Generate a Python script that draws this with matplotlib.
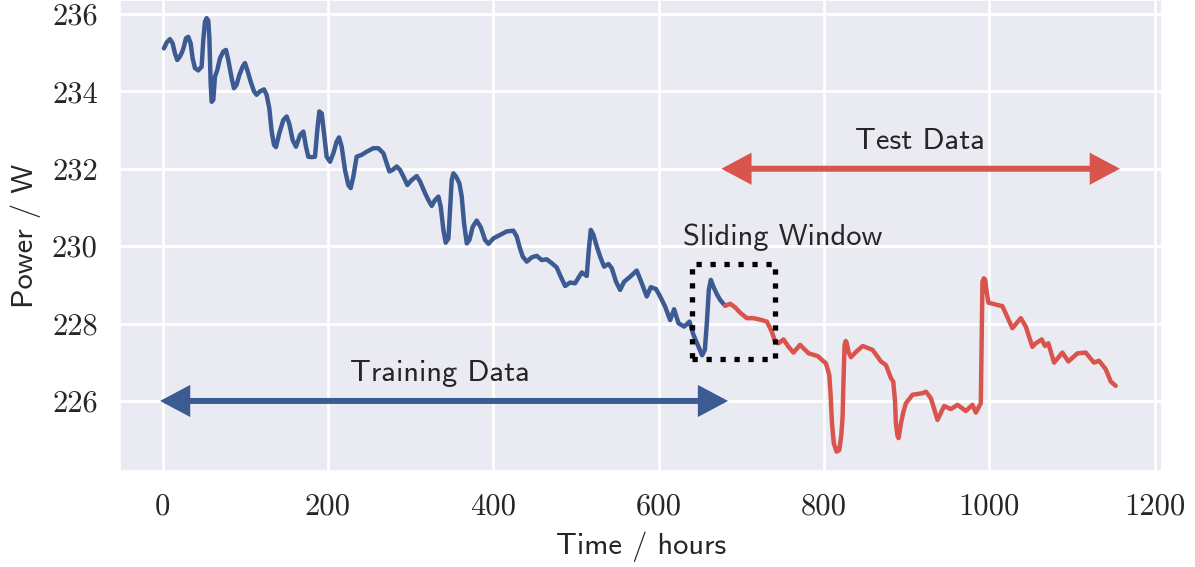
import matplotlib
matplotlib.use("Agg")
import matplotlib.pyplot as plt
import seaborn as sns
from matplotlib.patches import FancyArrowPatch, Rectangle

# training (blue) and test (red) power in W vs hours
train_t = [1.7, 4.9, 8.95, 12.2, 15.0, 17.8, 21.05, 23.9, 25.9, 28.3, 31.1, 34.0,
           36.4, 39.2, 43.2, 47.3, 49.3, 51.3, 53.3, 55.3, 56.55, 58.2, 59.4,
           61.4, 63.4, 66.2, 69.45, 73.5, 76.7, 79.5, 83.6, 86.4, 89.6, 92.85,
           96.9, 99.7, 102.5, 106.6, 110.6, 113.8, 117.9, 122.7, 125.9, 129.15,
           132.0, 134.8, 137.2, 141.25, 146.1, 150.1, 153.35, 157.4, 161.4,
           166.3, 170.3, 173.5, 176.3, 180.4, 184.4, 187.2, 189.65, 192.5,
           195.3, 198.5, 202.6, 206.6, 210.6, 213.45, 216.7, 220.7, 224.7,
           227.6, 230.8, 234.8, 240.9, 246.9, 255.0, 261.05, 267.1, 271.1,
           274.4, 278.4, 283.2, 287.3, 291.3, 296.1, 301.4, 307.4, 311.5,
           317.5, 321.6, 325.6, 329.6, 333.7, 336.5, 339.7, 342.5, 345.8,
           347.8, 349.8, 351.8, 355.0, 359.1, 361.9, 364.7, 368.0, 371.2,
           375.2, 380.0, 384.9, 390.1, 394.2, 400.2, 408.3, 416.3, 424.4,
           428.4, 431.7, 435.7, 440.6, 446.6, 452.6, 458.7, 464.7, 470.8,
           476.8, 481.7, 487.0, 493.0, 499.0, 507.1, 513.1, 515.6, 518.0,
           521.2, 525.3, 529.3, 534.1, 539.4, 543.4, 548.6, 553.5, 558.3,
           565.6, 573.6, 579.7, 585.7, 590.6, 597.0, 601.9, 607.9, 614.0,
           618.8, 624.1, 631.0, 637.4, 642.2, 648.3, 652.7, 656.0, 658.4,
           660.8, 663.2, 666.4, 670.5, 674.5, 680.5]
train_p = [235.11, 235.26, 235.35, 235.24, 234.98, 234.81, 234.90, 235.03,
           235.16, 235.37, 235.41, 235.24, 234.85, 234.60, 234.54, 234.64,
           235.33, 235.80, 235.89, 235.83, 235.41, 234.21, 233.73, 233.78,
           234.38, 234.55, 234.85, 235.03, 235.07, 234.81, 234.34, 234.08,
           234.17, 234.42, 234.64, 234.73, 234.55, 234.25, 234.00, 233.91,
           234.00, 234.05, 233.91, 233.56, 232.96, 232.62, 232.56, 232.92,
           233.26, 233.35, 233.16, 232.74, 232.57, 232.87, 232.96, 232.57,
           232.31, 232.30, 232.31, 233.00, 233.48, 233.43, 232.92, 232.31,
           232.18, 232.40, 232.70, 232.81, 232.57, 231.97, 231.58, 231.50,
           231.80, 232.31, 232.36, 232.44, 232.53, 232.53, 232.40, 232.14,
           231.93, 231.97, 232.06, 231.97, 231.80, 231.58, 231.71, 231.81,
           231.67, 231.37, 231.19, 231.04, 231.19, 231.28, 231.02, 230.42,
           230.09, 230.20, 230.94, 231.71, 231.88, 231.80, 231.62, 231.28,
           230.59, 230.07, 230.16, 230.50, 230.66, 230.49, 230.16, 230.06,
           230.20, 230.29, 230.38, 230.40, 230.25, 229.99, 229.73, 229.60,
           229.71, 229.75, 229.64, 229.66, 229.56, 229.45, 229.21, 228.97,
           229.06, 229.04, 229.32, 229.23, 229.90, 230.42, 230.29, 229.99,
           229.73, 229.47, 229.54, 229.43, 229.08, 228.87, 229.08, 229.21,
           229.37, 229.04, 228.70, 228.94, 228.89, 228.70, 228.44, 228.09,
           228.37, 228.01, 227.92, 228.05, 227.71, 227.40, 227.18, 227.32,
           228.01, 228.87, 229.13, 228.95, 228.76, 228.61, 228.46]

test_t = [680.5, 686.6, 692.6, 698.7, 706.7, 714.8, 724.9, 731.0, 737.0, 741.0,
          745.1, 751.1, 757.2, 763.2, 771.1, 781.5, 792.4, 802.5, 806.5, 808.0,
          809.8, 812.0, 815.3, 818.6, 821.0, 822.6, 823.8, 825.0, 826.4, 827.4,
          830.0, 832.7, 838.0, 846.8, 858.9, 869.0, 875.0, 881.1, 883.9, 886.0,
          887.1, 889.0, 890.3, 893.2, 896.0, 899.2, 907.2, 919.3, 923.4, 929.4,
          937.4, 945.5, 953.6, 961.6, 971.7, 979.7, 983.8, 989.8, 990.8, 991.8,
          993.5, 995.0, 997.0, 999.0, 1009.9, 1015.9, 1028.0, 1038.2, 1044.2,
          1052.2, 1056.3, 1063.5, 1067.5, 1071.5, 1078.4, 1088.5, 1095.7,
          1106.6, 1116.7, 1126.7, 1132.8, 1140.9, 1147.0, 1153.0]
test_p = [228.46, 228.51, 228.42, 228.28, 228.14, 228.14, 228.09, 228.05,
          227.79, 227.53, 227.49, 227.59, 227.40, 227.25, 227.45, 227.23,
          227.16, 226.97, 226.67, 226.20, 225.42, 224.90, 224.69, 224.73,
          225.10, 225.59, 226.60, 227.45, 227.55, 227.51, 227.25, 227.13,
          227.25, 227.42, 227.32, 227.02, 226.93, 226.59, 226.50, 226.00,
          225.42, 225.10, 225.04, 225.42, 225.70, 225.94, 226.16, 226.20,
          226.24, 226.07, 225.51, 225.87, 225.79, 225.90, 225.74, 225.90,
          225.70, 225.94, 227.50, 229.08, 229.17, 229.13, 228.80, 228.54,
          228.48, 228.45, 227.88, 228.14, 227.92, 227.40, 227.49, 227.59,
          227.42, 227.49, 226.99, 227.25, 227.02, 227.23, 227.25, 226.99,
          227.04, 226.82, 226.50, 226.39]

x_ticks = [0, 200, 400, 600, 800, 1000, 1200]
y_ticks = [226, 228, 230, 232, 234, 236]

blue = "#3b5b92"
red = "#d9544d"
ink = "#262626"

sns.set_theme(style="darkgrid")
plt.rcParams["font.family"] = ["cmss10", "DejaVu Sans"]
plt.rcParams["axes.unicode_minus"] = False

fig, ax = plt.subplots(figsize=(11.95, 5.67), dpi=100)
fig.subplots_adjust(left=0.1004, right=0.9724, bottom=0.1693, top=1.0)

ax.plot(train_t, train_p, color=blue, lw=3.2, solid_joinstyle="round")
ax.plot(test_t, test_p, color=red, lw=3.2, solid_joinstyle="round")

# train / test span arrows
for x0, x1, y, c in [(-3, 684, 226, blue), (676, 1158, 232, red)]:
    ax.add_patch(FancyArrowPatch((x0, y), (x1, y), arrowstyle="<|-|>,head_length=15,head_width=8",
                                 mutation_scale=1, shrinkA=0, shrinkB=0,
                                 color=c, lw=4.3, joinstyle="miter", zorder=3))

ax.add_patch(Rectangle((640, 227.08), 101, 2.46, fill=False, ls=":",
                       lw=3.8, ec="black", zorder=4))

ax.text(335.5, 226.52, "Training Data", ha="center", va="baseline", fontsize=22, color=ink)
ax.text(750.5, 230.03, "Sliding Window", ha="center", va="baseline", fontsize=22, color=ink)
ax.text(916, 232.5, "Test Data", ha="center", va="baseline", fontsize=22, color=ink)

ax.set_xlim(-51.5, 1209)
ax.set_ylim(224.19, 236.36)
ax.set_xticks(x_ticks)
ax.set_yticks(y_ticks)
ax.tick_params(axis="both", labelsize=22, pad=16, length=0, colors=ink)
for lab in ax.get_xticklabels() + ax.get_yticklabels():
    lab.set_fontfamily("cmr10")
ax.grid(True, color="white", lw=2)

ax.set_xlabel("Time / hours", fontsize=22, color=ink, labelpad=8)
ax.set_ylabel("Power / W", fontsize=22, color=ink, labelpad=8)

fig.savefig("out.png", dpi=100)
